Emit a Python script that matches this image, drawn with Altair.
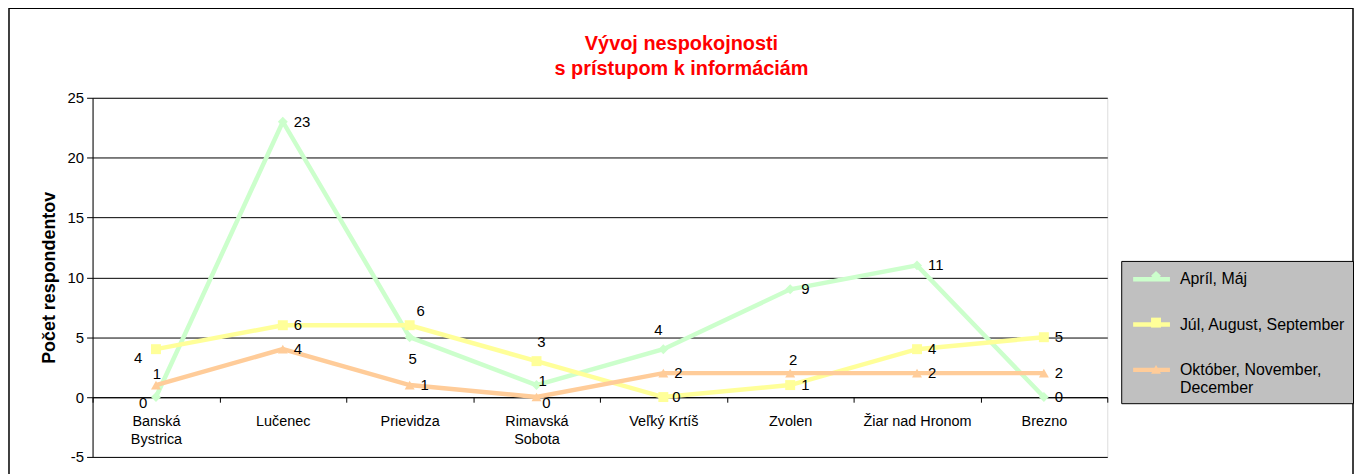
import altair as alt
import pandas as pd

# ---------------- data ----------------
categories = ["Banská Bystrica", "Lučenec", "Prievidza", "Rimavská Sobota",
              "Veľký Krtíš", "Zvolen", "Žiar nad Hronom", "Brezno"]
series_names = ["Apríl, Máj", "Júl, August, September", "Október, November, December"]
values_apr_maj = [0, 23, 5, 1, 4, 9, 11, 0]
values_jul_sep = [4, 6, 6, 3, 0, 1, 4, 5]
values_okt_dec = [1, 4, 1, 0, 2, 2, 2, 2]
y_ticks = [-5, 0, 5, 10, 15, 20, 25]

# ---------------- style ----------------
colors = ["#CCFFCC", "#FFFF99", "#FFCC99"]
shapes = ["diamond", "square", "triangle-up"]
FONT = "Liberation Sans"

# value-label nudges (pixel offsets from the point): (dx, dy, align)
DEFAULT_NUDGE = (11, 0, "left")
NUDGES = {
    (0, 0): (-13, 6, "center"),
    (0, 2): (3, 22, "center"),
    (0, 3): (2, -4, "left"),
    (0, 4): (-5, -19, "center"),
    (1, 0): (-18, 9, "center"),
    (1, 2): (11, -14, "center"),
    (1, 3): (5, -19, "center"),
    (1, 4): (9, 0, "left"),
    (2, 0): (1, -11, "center"),
    (2, 3): (10, 6, "center"),
    (2, 5): (3, -13, "center"),
}

all_values = [values_apr_maj, values_jul_sep, values_okt_dec]
rows = []
for si, (name, vals) in enumerate(zip(series_names, all_values)):
    for ci, (cat, v) in enumerate(zip(categories, vals)):
        rows.append({"series": name, "series_m": name, "cat": cat, "value": v,
                     "key": f"{si}-{ci}"})
df = pd.DataFrame(rows)

W, H = 1020, 361

x_enc = alt.X(
    "cat:N", sort=categories,
    scale=alt.Scale(type="band", domain=categories, paddingInner=0, paddingOuter=0),
    axis=alt.Axis(
        title=None, orient="bottom", offset=-60, domainColor="black", domainWidth=1,
        tickBand="extent", tickColor="black", tickSize=5, labelPadding=12,
        labelFontSize=14.5, labelColor="black", labelFont=FONT, labelLineHeight=19,
        labelAngle=0, grid=False, labelBaseline="top",
        labelExpr="datum.label == 'Banská Bystrica' || datum.label == 'Rimavská Sobota' ? split(datum.label, ' ') : datum.label",
    ),
)
y_enc = alt.Y(
    "value:Q",
    scale=alt.Scale(domain=[-5, 25], nice=False, zero=False),
    axis=alt.Axis(
        values=y_ticks, title="Počet respondentov", titleFontSize=18,
        titleFontWeight="bold", titleFont=FONT, titleColor="black",
        titleX=-43, titleY=H / 2, titleAlign="center", titleBaseline="middle",
        grid=True, gridColor="black", gridOpacity=1, gridWidth=1,
        tickColor="black", tickSize=6, domainColor="black", domainWidth=1,
        labelFontSize=15, labelFont=FONT, labelColor="black", labelPadding=3,
        labelExpr="datum.value < 0 ? '-' + abs(datum.value) : datum.label",
    ),
)

legend_label_expr = ("datum.label == 'Október, November, December' ? "
                     "['Október, November,', 'December'] : datum.label")

LX, LY = 1034, 164
ROWPAD = 24.5
legend_lines = alt.Legend(
    title=None, orient="none", legendX=LX, legendY=LY, fillColor="#C0C0C0",
    strokeColor="black", padding=7, symbolType="M-2,0L2,0", symbolSize=342,
    symbolOffset=12, symbolStrokeWidth=4.5, labelFontSize=16, labelFont=FONT,
    labelColor="black", labelLimit=400, labelOffset=17, rowPadding=ROWPAD,
    labelExpr=legend_label_expr,
)
# marker-only legend laid exactly over the line legend (labels carried by the first)
legend_marks = alt.Legend(
    title=None, orient="none", legendX=LX + 20, legendY=LY, padding=7,
    symbolSize=100, symbolStrokeWidth=0, labelFontSize=16, labelFont=FONT,
    labelLimit=400, labelOffset=0, rowPadding=31, labelExpr="''",
)

base = alt.Chart(df)

lines = base.mark_line(strokeWidth=4.5).encode(
    x=x_enc, y=y_enc,
    color=alt.Color("series:N", scale=alt.Scale(domain=series_names, range=colors),
                    legend=legend_lines),
)
points = base.mark_point(filled=True, size=100, opacity=1).encode(
    x=x_enc, y=y_enc,
    color=alt.Color("series_m:N", scale=alt.Scale(domain=series_names, range=colors),
                    legend=legend_marks),
    shape=alt.Shape("series_m:N", scale=alt.Scale(domain=series_names, range=shapes),
                    legend=legend_marks),
)

# group labels by nudge
groups = {}
for si in range(len(series_names)):
    for ci in range(len(categories)):
        nd = NUDGES.get((si, ci), DEFAULT_NUDGE)
        groups.setdefault(nd, []).append(f"{si}-{ci}")

text_layers = []
for (dx, dy, align), keys in groups.items():
    text_layers.append(
        base.transform_filter(alt.FieldOneOfPredicate(field="key", oneOf=keys))
        .mark_text(dx=dx, dy=dy, align=align, baseline="middle", fontSize=15,
                   font=FONT, color="black")
        .encode(x=x_enc, y=y_enc, text=alt.Text("value:Q"))
    )

frame = alt.Chart(pd.DataFrame({"f": [0]})).mark_rect(
    fillOpacity=0, stroke="black", strokeWidth=1.5
).encode(x=alt.value(-84), x2=alt.value(1267), y=alt.value(-90), y2=alt.value(420))

chart = alt.layer(lines, points, *text_layers, frame).resolve_scale(
    color="independent", shape="independent"
).resolve_legend(color="independent", shape="independent").properties(
    width=W, height=H,
    title=alt.TitleParams(
        ["Vývoj nespokojnosti", "s prístupom k informáciám"], color="#FF0000",
        fontSize=20, fontWeight="bold", font=FONT, anchor="middle", dx=82, dy=90,
        offset=18, lineHeight=25,
    ),
    autosize=alt.AutoSizeParams(type="none"),
    padding={"left": 85, "top": 89, "right": 248, "bottom": 30},
).configure_view(
    fill="#C0C0C0", stroke="black", strokeWidth=2
).configure(background="white")

chart.save("out.html", embed_options={"renderer": "svg", "actions": False})
